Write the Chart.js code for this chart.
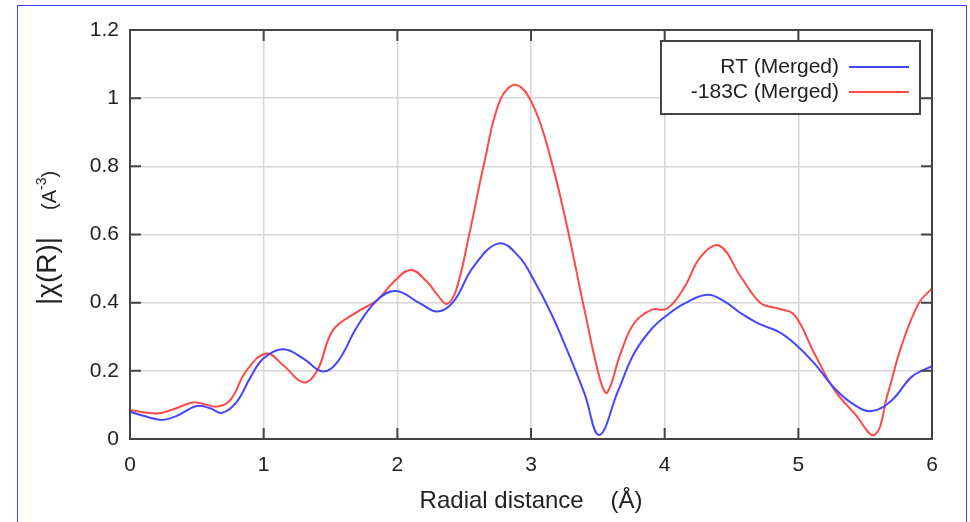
<!DOCTYPE html>
<html>
<head>
<meta charset="utf-8">
<script src="https://cdn.jsdelivr.net/npm/chart.js@4.4.0/dist/chart.umd.min.js"></script>
<style>
  body { margin: 0; background: #fff; }
  #wrap { position: relative; width: 970px; height: 522px; overflow: hidden; }
  #frame { position: absolute; left: 17px; top: 5px; width: 950px; height: 560px;
           border: 1.5px solid #4040ff; box-sizing: border-box; pointer-events: none; }
</style>
</head>
<body>
<div id="wrap">
  <canvas id="myChart" width="970" height="522"></canvas>
  <div id="frame"></div>
</div>
<script>
// series names
var seriesLabels = ["RT (Merged)", "-183C (Merged)"];

// RT (Merged): radial distance (A) and |chi(R)|
var rtR = [0, 0.1, 0.24, 0.35, 0.5, 0.6, 0.69, 0.8, 0.9, 1.0, 1.15, 1.3, 1.44, 1.55, 1.7, 1.85,
  1.99, 2.17, 2.3, 2.42, 2.57, 2.76, 2.91, 3.02, 3.15, 3.27, 3.4, 3.51, 3.65, 3.77, 3.9, 4.02, 4.15,
  4.32, 4.45, 4.57, 4.7, 4.85, 4.97, 5.12, 5.27, 5.42, 5.55, 5.7, 5.85, 6.0];
var rtChi = [0.080, 0.068, 0.056, 0.068, 0.097, 0.090, 0.077, 0.110, 0.180, 0.237, 0.263, 0.235,
  0.198, 0.225, 0.330, 0.408, 0.434, 0.398, 0.374, 0.403, 0.506, 0.574, 0.535, 0.467, 0.369, 0.261,
  0.134, 0.012, 0.140, 0.250, 0.322, 0.364, 0.398, 0.423, 0.403, 0.369, 0.339, 0.315, 0.281,
  0.222, 0.149, 0.100, 0.082, 0.114, 0.183, 0.214];

// -183C (Merged)
var coldR = [0, 0.2, 0.33, 0.47, 0.55, 0.65, 0.75, 0.87, 1.02, 1.15, 1.3, 1.4, 1.52, 1.7, 1.85,
  1.97, 2.1, 2.22, 2.3, 2.37, 2.44, 2.54, 2.65, 2.77, 2.89, 3.02, 3.15, 3.27, 3.4, 3.52, 3.57, 3.67, 3.77,
  3.9, 4.02, 4.15, 4.27, 4.41, 4.57, 4.72, 4.85, 4.97, 5.12, 5.27, 5.42, 5.57, 5.67, 5.77, 5.9, 6.0];
var coldChi = [0.085, 0.075, 0.088, 0.107, 0.103, 0.095, 0.114, 0.200, 0.251, 0.215, 0.166,
  0.200, 0.320, 0.373, 0.408, 0.460, 0.496, 0.462, 0.423, 0.396, 0.437, 0.604, 0.810, 0.995, 1.039, 0.975,
  0.819, 0.623, 0.379, 0.170, 0.136, 0.251, 0.339, 0.379, 0.383, 0.447, 0.535, 0.567, 0.476,
  0.398, 0.383, 0.364, 0.251, 0.144, 0.075, 0.012, 0.134, 0.271, 0.398, 0.442];

var seriesColors = ["#4646ff", "#ff4848"];
var font = '"Liberation Sans", Arial, sans-serif';

function points(xs, ys) {
  return xs.map(function(x, i) { return { x: x, y: ys[i] }; });
}

// frame, inward ticks, legend box and y title (gnuplot look)
var gnuplotLook = {
  id: "gnuplotLook",
  afterDraw: function(chart) {
    var ctx = chart.ctx, a = chart.chartArea;
    var xs = chart.scales.x, ys = chart.scales.y;
    ctx.save();
    ctx.strokeStyle = "#444";
    ctx.lineWidth = 2;
    ctx.strokeRect(a.left, a.top, a.right - a.left, a.bottom - a.top);
    ctx.beginPath();
    xs.ticks.forEach(function(t) {
      var px = xs.getPixelForValue(t.value);
      ctx.moveTo(px, a.bottom); ctx.lineTo(px, a.bottom - 11);
      ctx.moveTo(px, a.top); ctx.lineTo(px, a.top + 11);
    });
    ys.ticks.forEach(function(t) {
      var py = ys.getPixelForValue(t.value);
      ctx.moveTo(a.left, py); ctx.lineTo(a.left + 11, py);
      ctx.moveTo(a.right, py); ctx.lineTo(a.right - 11, py);
    });
    ctx.stroke();

    // legend
    var bx = 661, by = 41, bw = 259, bh = 73;
    ctx.fillStyle = "#fff";
    ctx.fillRect(bx, by, bw, bh);
    ctx.strokeRect(bx, by, bw, bh);
    ctx.font = "21px " + font;
    ctx.textAlign = "right";
    ctx.textBaseline = "middle";
    chart.data.datasets.forEach(function(ds, i) {
      var ry = 67 + i * 25;
      ctx.fillStyle = "#222";
      ctx.fillText(ds.label, 839, ry);
      ctx.strokeStyle = ds.borderColor;
      ctx.lineWidth = 2;
      ctx.beginPath();
      ctx.moveTo(849, ry); ctx.lineTo(909, ry);
      ctx.stroke();
    });

    // y axis title with superscript
    ctx.translate(48, 0);
    ctx.rotate(-Math.PI / 2);
    ctx.fillStyle = "#222";
    ctx.textBaseline = "middle";
    ctx.textAlign = "center";
    ctx.font = "28px " + font;
    ctx.fillText("|\u03c7(R)|", -271, 0);
    ctx.textAlign = "left";
    var x0 = -210;
    ctx.font = "20px " + font;
    ctx.fillText("(A", x0, 2);
    x0 += ctx.measureText("(A").width;
    ctx.font = "14px " + font;
    ctx.fillText("-3", x0, -6);
    x0 += ctx.measureText("-3").width;
    ctx.font = "20px " + font;
    ctx.fillText(")", x0, 2);
    ctx.restore();
  }
};

window.onload = function() {
  var ctx = document.getElementById("myChart").getContext("2d");
  var chart = new Chart(ctx, {
    type: "line",
    data: {
      datasets: [
        {
          label: seriesLabels[0],
          data: points(rtR, rtChi),
          borderColor: seriesColors[0],
          borderWidth: 2,
          pointRadius: 0,
          tension: 0.4,
          fill: false
        },
        {
          label: seriesLabels[1],
          data: points(coldR, coldChi),
          borderColor: seriesColors[1],
          borderWidth: 2,
          pointRadius: 0,
          tension: 0.4,
          fill: false
        }
      ]
    },
    options: {
      responsive: false,
      animation: false,
      layout: { padding: { left: 0, top: 30, right: 38, bottom: 0 } },
      plugins: { legend: { display: false }, tooltip: { enabled: false } },
      scales: {
        x: {
          type: "linear",
          min: 0,
          max: 6,
          afterFit: function(s) { s.height = 83; },
          ticks: { stepSize: 1, color: "#222", font: { family: font, size: 21 }, padding: 14, maxRotation: 0 },
          grid: { color: "#d6d6d6", lineWidth: 1.5, drawTicks: false },
          border: { display: false },
          title: {
            display: true,
            text: "Radial distance    (\u00c5)",
            color: "#222",
            font: { family: font, size: 24 },
            padding: { top: 0, bottom: 6 }
          }
        },
        y: {
          min: 0,
          max: 1.2,
          afterFit: function(s) { s.width = 130; },
          ticks: {
            stepSize: 0.2,
            color: "#222",
            font: { family: font, size: 21 },
            padding: 11,
            callback: function(v) { return String(+v.toFixed(1)); }
          },
          grid: { color: "#d6d6d6", lineWidth: 1.5, drawTicks: false },
          border: { display: false }
        }
      }
    },
    plugins: [gnuplotLook]
  });
};
</script>
</body>
</html>
